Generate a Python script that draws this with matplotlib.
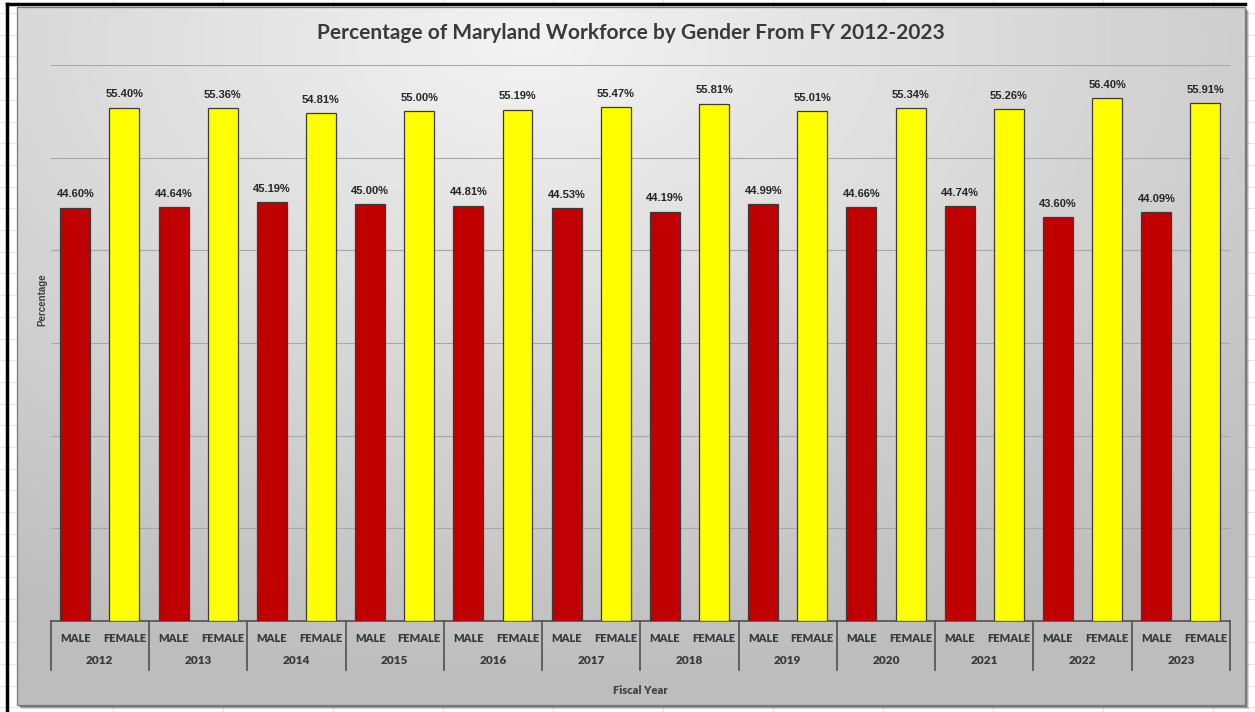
import numpy as np
import matplotlib
matplotlib.use("Agg")
import matplotlib.pyplot as plt
from matplotlib.patches import Rectangle
import matplotlib.transforms as mtransforms

years = ["2012", "2013", "2014", "2015", "2016", "2017",
         "2018", "2019", "2020", "2021", "2022", "2023"]
genders = ["MALE", "FEMALE"]
male = [44.60, 44.64, 45.19, 45.00, 44.81, 44.53, 44.19, 44.99, 44.66, 44.74, 43.60, 44.09]
female = [55.40, 55.36, 54.81, 55.00, 55.19, 55.47, 55.81, 55.01, 55.34, 55.26, 56.40, 55.91]

W, H = 1255, 712
fig = plt.figure(figsize=(W / 100, H / 100), dpi=100)

# sheet background, frame and chart area
bg = fig.add_axes([0, 0, 1, 1])
bg.set_xlim(0, W)
bg.set_ylim(H, 0)
bg.axis("off")
for yy in np.arange(13, H, 21.7):
    bg.axhline(yy, color="#e4e4e4", lw=0.8, zorder=0)
for xx in np.arange(113, W, 110):
    bg.axvline(xx, color="#e4e4e4", lw=0.8, zorder=0)
bg.plot([7, 7], [H, 4], color="black", lw=2.5, zorder=1)
bg.plot([7, 1245], [4, 4], color="black", lw=2.5, zorder=1)
# shadow
for off, a in [(4, 0.15), (3, 0.2), (2, 0.3)]:
    bg.add_patch(Rectangle((17 + off, 7 + off), 1228, 698, color="black",
                           alpha=a, lw=0, zorder=2))
gy, gx = np.mgrid[0:1:200j, 0:1:400j]
r = np.sqrt(((gx - 0.42) / 1.0) ** 2 + ((gy - 0.05) / 1.1) ** 2)
grad = np.clip(0.95 - 0.25 * r, 0.74, 0.96)
bg.imshow(grad, cmap="gray", vmin=0, vmax=1, extent=(17, 1245, 705, 7),
          aspect="auto", zorder=3, interpolation="bicubic")
bg.add_patch(Rectangle((17, 7), 1228, 698, fill=False, ec="#7a7a7a", lw=0.9, zorder=4))

# plot area
x0, x1, ytop, ybot = 50.7, 1230, 65, 621
ax = fig.add_axes([x0 / W, 1 - ybot / H, (x1 - x0) / W, (ybot - ytop) / H])
ax.set_facecolor("none")
ax.set_zorder(5)

n = len(years)
xm = np.arange(n) * 2
xf = xm + 1
bw = 0.61
ax.bar(xm, male, width=bw, color="#C00000", edgecolor="#3a3a3a", lw=0.9, zorder=3)
ax.bar(xf, female, width=bw, color="#FFFF00", edgecolor="#3a3a3a", lw=0.9, zorder=3)

for xs, vals in [(xm, male), (xf, female)]:
    for x, v in zip(xs, vals):
        ax.annotate(f"{v:.2f}%", (x, v), xytext=(0, 6), textcoords="offset points",
                    ha="center", va="bottom", fontsize=8, fontweight="bold",
                    family="Liberation Sans", color="#262626")

ax.set_xlim(-0.5, 2 * n - 0.5)
ax.set_ylim(0, 60)
ax.set_yticks(np.arange(0, 61, 10))
ax.set_yticklabels([])
ax.tick_params(axis="y", length=0)
ax.grid(axis="y", color="#a8a8a8", lw=0.8, zorder=0)
for s in ["top", "right", "left"]:
    ax.spines[s].set_visible(False)
ax.spines["bottom"].set_color("#595959")
ax.spines["bottom"].set_linewidth(1.3)

ax.set_xticks(np.arange(2 * n))
ax.set_xticklabels(genders * n, fontsize=8, fontweight="heavy", family="Lato", color="#3a3a3a")
ax.tick_params(axis="x", length=0, pad=9)

trans = mtransforms.blended_transform_factory(ax.transData, ax.transAxes)
sep_y = -(670 - ybot) / (ybot - ytop)
for k in range(n + 1):
    ax.plot([2 * k - 0.5, 2 * k - 0.5], [0, sep_y], transform=trans, color="#595959",
            lw=1.3, clip_on=False, zorder=4)
for k, yr in enumerate(years):
    ax.text(2 * k + 0.5, -(661 - ybot) / (ybot - ytop), yr, transform=trans,
            ha="center", va="center", fontsize=8.5, fontweight="heavy",
            family="Lato", color="#3a3a3a")

fig.text(640 / W, 1 - 690 / H, "Fiscal Year", ha="center", va="center", fontsize=8,
         fontweight="heavy", family="Lato", color="#404040")
fig.text(42 / W, 1 - 300 / H, "Percentage", ha="center", va="center", rotation=90,
         fontsize=7, fontweight="bold", family="Liberation Sans", color="#404040")
fig.text(631 / W, 1 - 33 / H, "Percentage of Maryland Workforce by Gender From FY 2012-2023",
         ha="center", va="center", fontsize=15, fontweight="bold", family="Lato",
         color="#3a3a3a")

fig.savefig("out.png", dpi=100)
